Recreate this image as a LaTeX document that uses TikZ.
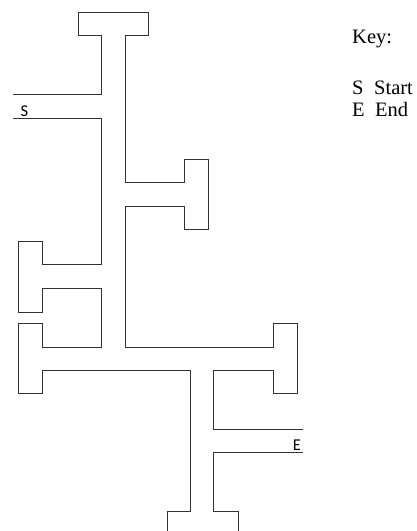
\documentclass[tikz,border=0pt]{standalone}
\usepackage{fontspec}
\setmainfont{Liberation Serif}
\newfontfamily\labelfont{Carlito}
\usepackage{tikz}

\begin{document}
\begin{tikzpicture}[
    x=1pt, y=-1pt,
    % maze walls
    wall/.style={
        draw=black!80,
        line width=0.9pt,
        line join=miter
    },
    % S and E marks at the openings
    mazelabel/.style={
        font=\labelfont\fontsize{16.5}{19}\selectfont,
        inner sep=0pt,
        anchor=base
    },
    % text of the key
    keytext/.style={
        font=\fontsize{20.5}{24}\selectfont,
        inner sep=0pt,
        anchor=base west
    }
]
    \useasboundingbox (0,0) rectangle (417,531);

    % Upper wall: from the start opening round the right side to the end opening
    \draw[wall] (13,94) -- (101,94) -- (101,35) -- (78,35) -- (78,12) -- (148,12)
        -- (148,35) -- (125,35) -- (125,182) -- (184,182) -- (184,159) -- (208,159)
        -- (208,229) -- (184,229) -- (184,206) -- (125,206) -- (125,347)
        -- (273,347) -- (273,323) -- (297,323) -- (297,393) -- (273,393)
        -- (273,370) -- (213,370) -- (213,429) -- (303,429);

    % Lower wall: from the start opening down the left side to the bottom
    \draw[wall] (13,118) -- (101,118) -- (101,264) -- (42,264) -- (42,241)
        -- (18,241) -- (18,312) -- (42,312) -- (42,288) -- (101,288)
        -- (101,347) -- (42,347) -- (42,323) -- (18,323) -- (18,393)
        -- (42,393) -- (42,370) -- (190,370) -- (190,511) -- (167,511) -- (167,531);

    % Wall below the end opening
    \draw[wall] (303,452) -- (213,452) -- (213,511) -- (238,511) -- (238,531);

    % Opening marks
    \node (start) [mazelabel] at (24.5,116) {S};
    \node (end) [mazelabel] at (297,450) {E};

    % --- KEY ---
    \node (key) [keytext] at (352,43) {Key:};
    \node (key-s) [keytext] at (352,94) {S};
    \node (key-start) [keytext] at (374,94) {Start};
    \node (key-e) [keytext] at (352,116) {E};
    \node (key-end) [keytext] at (375,116) {End};
\end{tikzpicture}
\end{document}
